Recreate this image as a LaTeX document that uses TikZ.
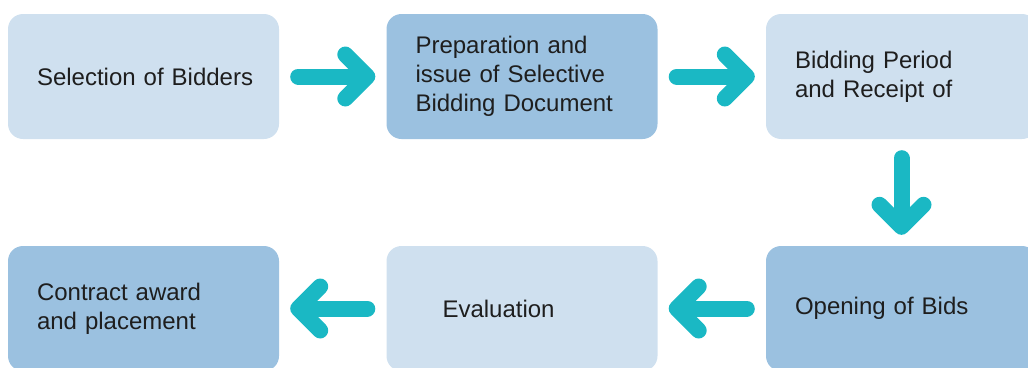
\documentclass[tikz,border=0pt]{standalone}
\usepackage{fontspec}
\setmainfont{Liberation Sans}
\usetikzlibrary{arrows.meta}
\definecolor{palebox}{RGB}{207,224,239}
\definecolor{deepbox}{RGB}{155,193,224}
\definecolor{teal}{RGB}{26,184,196}
\definecolor{ink}{RGB}{30,30,30}
\tikzset{
  stage/.style={fill=palebox,rounded corners=15pt,minimum width=271pt,
    minimum height=125pt,inner sep=0pt,text width=213pt,align=left,
    text=ink,font=\fontsize{24}{29}\selectfont},
  keystage/.style={stage,fill=deepbox},
  flow/.style={draw=teal,line width=16pt,line cap=round,
    -{Straight Barb[length=22pt,width=44pt,round]},
    shorten <=19pt,shorten >=11pt}
}
\begin{document}
\begin{tikzpicture}[x=1pt,y=-1pt]
  \useasboundingbox (0,0) rectangle (1028,367);
  \node[stage]    (sel)   at (143.5,76.5) {\mbox{Selection of Bidders}};
  \node[keystage] (prep)  at (522,76.5)   {Preparation and\\issue of Selective\\Bidding Document};
  \node[stage]    (bid)   at (901.5,76.5) {Bidding Period\\and Receipt of};
  \node[keystage] (open)  at (901.5,308.5) {Opening of Bids};
  \node[stage]    (eval)  at (522,308.5)  {\hspace*{27pt}Evaluation};
  \node[keystage] (award) at (143.5,308.5) {Contract award\\and placement};

  \foreach \a/\b in {sel/prep,prep/bid,bid/open,open/eval,eval/award}
    \draw[flow] (\a) -- (\b);
\end{tikzpicture}
\end{document}
